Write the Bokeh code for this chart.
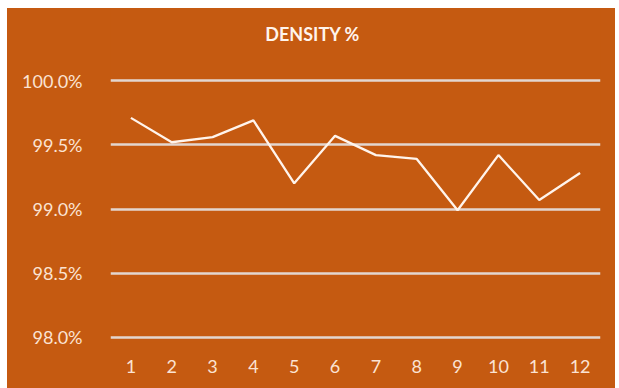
from bokeh.plotting import figure
from bokeh.models import Range1d, FixedTicker, Label
from bokeh.embed import file_html
from bokeh.resources import INLINE

# Monthly density readings (percent)
months = [1, 2, 3, 4, 5, 6, 7, 8, 9, 10, 11, 12]
density = [99.71, 99.52, 99.56, 99.69, 99.20, 99.57, 99.42, 99.39, 98.99, 99.42, 99.07, 99.28]
y_ticks = [98.0, 98.5, 99.0, 99.5, 100.0]
title_text = "DENSITY %"

BG = "#C55A11"
PALE = "#FBE3D3"
GRID = "#E3D6CF"
FONT = "Lato"

# the plotting frame runs up to the top edge so the heading sits inside it
p = figure(
    width=608, height=380,
    output_backend="svg", toolbar_location=None,
    x_range=Range1d(0.5, 12.5), y_range=Range1d(97.96, 100.562),
    min_border_left=103, min_border_right=15,
    min_border_top=0, min_border_bottom=46,
    background_fill_color=BG, border_fill_color=BG,
    outline_line_color=None,
)
p.margin = (8, 4, 0, 7)
p.styles = {"background-color": BG}

p.line(months, density, line_color="#FFF4EC", line_width=2.3)

# axes
p.xaxis.ticker = FixedTicker(ticks=months)
p.yaxis.ticker = FixedTicker(ticks=y_ticks)
p.yaxis.major_label_overrides = {t: f"{t:.1f}%" for t in y_ticks}
for ax in (p.xaxis[0], p.yaxis[0]):
    ax.axis_line_color = None
    ax.major_tick_line_color = None
    ax.minor_tick_line_color = None
    ax.major_label_text_color = PALE
    ax.major_label_text_font = FONT
    ax.major_label_text_font_size = "18px"
p.yaxis.major_label_standoff = 22
p.xaxis.major_label_standoff = 11

p.xgrid.grid_line_color = None
p.ygrid.grid_line_color = GRID
p.ygrid.grid_line_width = 2.5

p.add_layout(Label(
    x=5.45, y=100.365, text=title_text,
    text_align="center", text_baseline="middle",
    text_color="#FFF4EC", text_font=FONT, text_font_style="bold",
    text_font_size="18px",
))

open("out.html", "w").write(file_html(p, INLINE))
